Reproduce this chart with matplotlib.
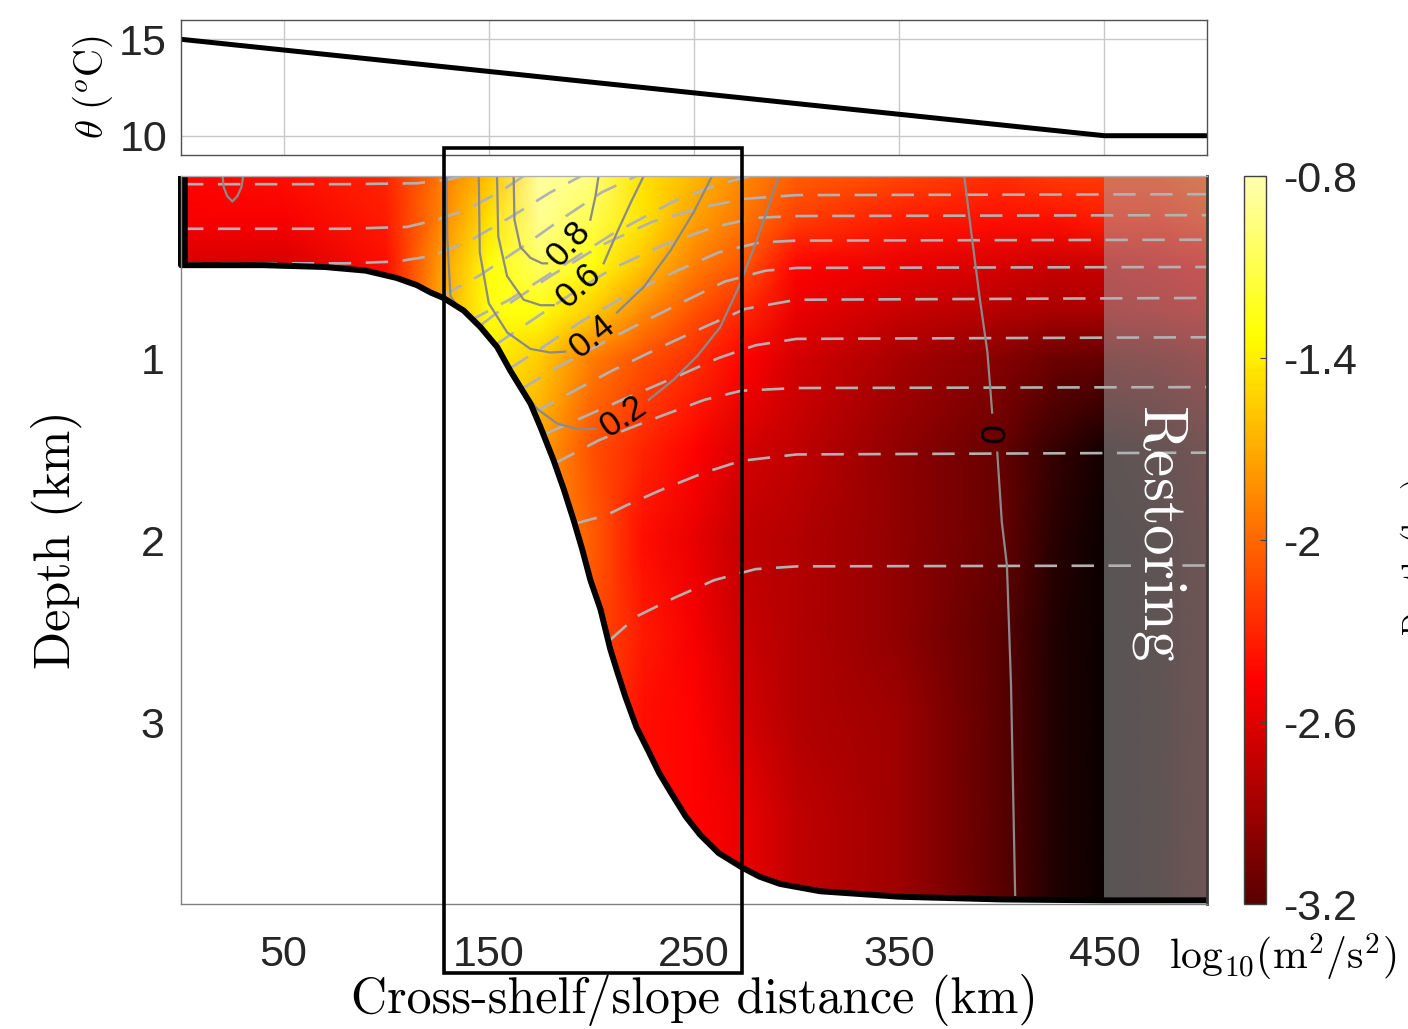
import numpy as np
import matplotlib.pyplot as plt
import matplotlib.transforms as mtransforms
from matplotlib.colors import ListedColormap, Normalize
from matplotlib.cm import ScalarMappable
from matplotlib.patches import Rectangle

plt.rcParams['font.family'] = ['Liberation Sans', 'DejaVu Sans']
plt.rcParams['mathtext.fontset'] = 'cm'

# -------------------------------------------------
# Data
# -------------------------------------------------

# upper panel: potential temperature at the surface
THETA_X = [0, 450, 500]
THETA_Y = [15, 10, 10]

# bathymetry (km, km)
BATHY_X = [0, 0, 40, 70, 90, 105, 115, 121.6, 127.9, 137.8, 145.9, 154.1, 160.5,
           165.4, 170.3, 175.2, 181.5, 186.5, 191.3, 195.5, 199.5, 204.4, 209.2,
           212.5, 216.5, 222, 227.8, 233, 239.4, 246, 253, 262, 273.5, 282, 292,
           311.5, 350, 400, 450, 500]
BATHY_Z = [0, 0.49, 0.49, 0.50, 0.52, 0.56, 0.60, 0.64, 0.67, 0.74, 0.83, 0.94, 1.07,
           1.16, 1.25, 1.38, 1.56, 1.72, 1.89, 2.05, 2.22, 2.38, 2.60,
           2.72, 2.86, 3.03, 3.16, 3.28, 3.40, 3.52, 3.62, 3.72, 3.80, 3.85, 3.89,
           3.93, 3.96, 3.975, 3.98, 3.98]

# log10 EKE on a coarse grid
EKE_X = [0, 50, 100, 125, 150, 175, 200, 225, 250, 275, 300, 350, 400, 425, 450, 475, 500]
EKE_Z = [0, 0.25, 0.5, 0.75, 1.0, 1.5, 2.0, 2.5, 3.0, 3.5, 4.0]
EKE = [
    [-2.45, -2.40, -2.30, -1.95, -1.60, -0.85, -0.95, -1.45, -1.65, -1.85, -2.05, -2.15, -2.25, -2.20, -2.20, -2.20, -2.10],
    [-2.50, -2.50, -2.35, -1.90, -1.45, -0.90, -1.10, -1.45, -1.75, -1.95, -2.20, -2.35, -2.40, -2.40, -2.35, -2.35, -2.25],
    [-2.65, -2.65, -2.40, -1.80, -1.30, -1.05, -1.30, -1.60, -1.90, -2.10, -2.45, -2.55, -2.65, -2.70, -2.70, -2.65, -2.55],
    [-2.65, -2.65, -2.40, -1.75, -1.30, -1.30, -1.55, -1.85, -2.10, -2.30, -2.55, -2.70, -2.80, -2.85, -2.85, -2.80, -2.70],
    [-2.65, -2.65, -2.40, -1.75, -1.40, -1.55, -1.90, -2.10, -2.25, -2.45, -2.65, -2.85, -3.00, -3.10, -3.15, -3.10, -3.00],
    [-2.65, -2.65, -2.40, -1.75, -1.50, -1.75, -2.10, -2.30, -2.45, -2.65, -2.75, -2.95, -3.15, -3.35, -3.50, -3.45, -3.30],
    [-2.65, -2.65, -2.40, -1.75, -1.50, -1.80, -2.05, -2.40, -2.55, -2.75, -2.80, -2.95, -3.15, -3.40, -3.55, -3.50, -3.35],
    [-2.65, -2.65, -2.40, -1.75, -1.50, -1.80, -2.10, -2.35, -2.50, -2.70, -2.80, -2.95, -3.20, -3.45, -3.55, -3.50, -3.35],
    [-2.65, -2.65, -2.40, -1.75, -1.50, -1.80, -2.10, -2.40, -2.45, -2.65, -2.80, -2.90, -3.20, -3.45, -3.55, -3.50, -3.35],
    [-2.65, -2.65, -2.40, -1.75, -1.50, -1.80, -2.10, -2.40, -2.45, -2.55, -2.75, -2.90, -3.20, -3.45, -3.55, -3.50, -3.35],
    [-2.65, -2.65, -2.40, -1.75, -1.50, -1.80, -2.10, -2.40, -2.45, -2.55, -2.75, -2.90, -3.20, -3.45, -3.55, -3.50, -3.35],
]

# dashed isopycnals, shelf ones (outcropping)
ISO_S1_X = [0, 80, 115, 130, 138]
ISO_S1_Z = [0.045, 0.045, 0.04, 0.02, 0.0]
ISO_S2_X = [0, 80, 110, 125, 140, 155, 167]
ISO_S2_Z = [0.29, 0.29, 0.28, 0.24, 0.18, 0.09, 0.0]
ISO_S3_X = [0, 80, 105, 122, 140, 160, 180, 195]
ISO_S3_Z = [0.48, 0.48, 0.47, 0.44, 0.36, 0.23, 0.09, 0.0]
# frontal ones (slope to surface)
ISO_F1_X = [127, 145, 165, 185, 205, 222]
ISO_F1_Z = [0.66, 0.55, 0.40, 0.24, 0.09, 0.0]
ISO_F2_X = [140, 160, 185, 210, 240, 262, 278]
ISO_F2_Z = [0.80, 0.68, 0.50, 0.32, 0.14, 0.045, 0.0]
# interior ones (slope to restoring zone)
ISO_I1_X = [146, 160, 180, 205, 230, 255, 275, 300, 500]
ISO_I1_Z = [0.82, 0.70, 0.55, 0.38, 0.25, 0.17, 0.125, 0.105, 0.10]
ISO_I2_X = [153, 170, 190, 210, 235, 260, 280, 300, 500]
ISO_I2_Z = [0.93, 0.80, 0.65, 0.51, 0.38, 0.28, 0.23, 0.22, 0.215]
ISO_I3_X = [160, 175, 195, 215, 240, 262, 282, 300, 500]
ISO_I3_Z = [1.06, 0.95, 0.80, 0.67, 0.53, 0.42, 0.365, 0.355, 0.35]
ISO_I4_X = [166, 182, 200, 222, 245, 265, 285, 300, 500]
ISO_I4_Z = [1.17, 1.06, 0.95, 0.82, 0.69, 0.58, 0.52, 0.505, 0.50]
ISO_I5_X = [172, 190, 210, 232, 255, 275, 300, 500]
ISO_I5_Z = [1.30, 1.19, 1.07, 0.95, 0.83, 0.73, 0.68, 0.67]
ISO_I6_X = [177, 195, 215, 240, 262, 280, 300, 500]
ISO_I6_Z = [1.42, 1.33, 1.23, 1.11, 1.00, 0.93, 0.895, 0.886]
ISO_I7_X = [182, 204, 229, 255, 273, 300, 500]
ISO_I7_Z = [1.58, 1.45, 1.34, 1.23, 1.18, 1.165, 1.16]
ISO_I8_X = [192, 207, 217, 235, 255, 273, 300, 500]
ISO_I8_Z = [1.91, 1.865, 1.81, 1.72, 1.63, 1.565, 1.53, 1.52]
ISO_I9_X = [209, 222, 240, 260, 280, 300, 500]
ISO_I9_Z = [2.55, 2.42, 2.32, 2.22, 2.16, 2.145, 2.14]

# mean along-slope velocity contours (m/s), split at the labels
U08_A_X = [162.1, 162.5, 165.4, 170.3, 176.0, 178.4]
U08_A_Z = [0.0, 0.24, 0.39, 0.45, 0.48, 0.48]
U08_B_X = [199.5, 202.0, 203.5]
U08_B_Z = [0.24, 0.11, 0.0]
U06_A_X = [154.0, 154.6, 158.9, 167.0, 175.2, 181.6]
U06_A_Z = [0.0, 0.33, 0.55, 0.68, 0.71, 0.71]
U06_B_X = [206.0, 212.5, 219.0, 225.5]
U06_B_Z = [0.48, 0.31, 0.15, 0.0]
U04_A_X = [145.1, 145.6, 150.0, 159.0, 170.3, 180.0, 187.3]
U04_A_Z = [0.0, 0.42, 0.70, 0.86, 0.95, 0.97, 0.965]
U04_B_X = [212.5, 225.5, 238.5, 249.8, 258.8]
U04_B_Z = [0.75, 0.61, 0.41, 0.20, 0.0]
U02_A_X = [129.4, 129.7, 131.3, 140.0, 154.0, 163.9, 173.6, 183.3, 193.0, 202.0]
U02_A_Z = [0.0, 0.33, 0.66, 0.80, 0.99, 1.14, 1.28, 1.36, 1.39, 1.39]
U02_B_X = [227.9, 240.0, 251.5, 262.8, 272.6, 280.7, 285.6, 291.2]
U02_B_Z = [1.23, 1.12, 0.99, 0.83, 0.59, 0.35, 0.19, 0.0]
U00_A_X = [381.7, 385.0, 389.0, 393.0, 395.3]
U00_A_Z = [0.0, 0.30, 0.65, 0.97, 1.30]
U00_B_X = [397.8, 400.0, 402.5, 404.5, 406.5]
U00_B_Z = [1.52, 1.90, 2.14, 2.80, 3.95]
U00_LOOP_X = [20.3, 20.8, 22.5, 25.0, 27.5, 29.5, 30.3]
U00_LOOP_Z = [0.0, 0.06, 0.11, 0.14, 0.11, 0.06, 0.0]

U_LABELS = ['0.8', '0.6', '0.4', '0.2', '0']
U_LABEL_X = [188.9, 193.8, 200.3, 215.7, 396.8]
U_LABEL_Z = [0.37, 0.60, 0.88, 1.32, 1.41]
U_LABEL_ROT = [48, 43, 39, 34, 88]

CBAR_TICKS = [-3.2, -2.6, -2.0, -1.4, -0.8]
CBAR_LABELS = ['-3.2', '-2.6', '-2', '-1.4', '-0.8']

RESTORING_X0 = 450
BOX_X = [128, 273.5]

# -------------------------------------------------
# Figure
# -------------------------------------------------

W, H = 1408, 1029
fig = plt.figure(figsize=(W / 100, H / 100), dpi=100)

TICK_SIZE = 31
SERIF = 'cmr10'
GRAY_FRAME = '#808080'

# ---- upper panel
ax_top = fig.add_axes([181 / W, 1 - 155 / H, 1026 / W, 135 / H])
ax_top.plot(THETA_X, THETA_Y, color='k', lw=3.6, solid_capstyle='butt')
ax_top.set_xlim(0, 500)
ax_top.set_ylim(9, 16)
ax_top.set_xticks([50, 150, 250, 350, 450])
ax_top.set_xticklabels([])
ax_top.set_yticks([10, 15])
ax_top.grid(True, color='#c8c8c8', lw=1.0)
ax_top.tick_params(length=0, labelsize=TICK_SIZE, pad=10, colors='#262626')
for sp in ax_top.spines.values():
    sp.set_color('#505050')
    sp.set_linewidth(1.0)
fig.text(93 / W, 1 - 87 / H, r'$\theta\ (^o\mathrm{C})$', rotation=90,
         ha='center', va='center', fontsize=28)

# ---- main panel
ax = fig.add_axes([181 / W, 1 - 904 / H, 1026 / W, 728 / H])

hot = plt.get_cmap('hot')
field_cmap = ListedColormap(hot(np.linspace(0.0, 0.92, 256)))
field_norm = Normalize(vmin=-3.2 - 2.4 * 0.12 / 0.8, vmax=-0.8)
bar_cmap = ListedColormap(hot(np.linspace(0.12, 0.92, 256)))
bar_norm = Normalize(vmin=-3.2, vmax=-0.8)

XX, ZZ = np.meshgrid(EKE_X, EKE_Z)
ax.pcolormesh(XX, ZZ, np.array(EKE), cmap=field_cmap, norm=field_norm,
              shading='gouraud', zorder=1, rasterized=True)

# restoring zone overlay
ax.add_patch(Rectangle((RESTORING_X0, 0), 500 - RESTORING_X0, 4,
                       facecolor='#a8a8a8', alpha=0.5, edgecolor='none', zorder=2))

# isopycnals
iso_lines = [
    (ISO_S1_X, ISO_S1_Z), (ISO_S2_X, ISO_S2_Z), (ISO_S3_X, ISO_S3_Z),
    (ISO_F1_X, ISO_F1_Z), (ISO_F2_X, ISO_F2_Z),
    (ISO_I1_X, ISO_I1_Z), (ISO_I2_X, ISO_I2_Z), (ISO_I3_X, ISO_I3_Z),
    (ISO_I4_X, ISO_I4_Z), (ISO_I5_X, ISO_I5_Z), (ISO_I6_X, ISO_I6_Z),
    (ISO_I7_X, ISO_I7_Z), (ISO_I8_X, ISO_I8_Z), (ISO_I9_X, ISO_I9_Z),
]
for xs, zs in iso_lines:
    ax.plot(xs, zs, color='#b2b2b2', lw=1.9, dashes=(8.5, 5.5), zorder=3)

# velocity contours
u_lines = [
    (U08_A_X, U08_A_Z), (U08_B_X, U08_B_Z), (U06_A_X, U06_A_Z), (U06_B_X, U06_B_Z),
    (U04_A_X, U04_A_Z), (U04_B_X, U04_B_Z), (U02_A_X, U02_A_Z), (U02_B_X, U02_B_Z),
    (U00_A_X, U00_A_Z), (U00_B_X, U00_B_Z), (U00_LOOP_X, U00_LOOP_Z),
]
for xs, zs in u_lines:
    ax.plot(xs, zs, color='#8a8a8a', lw=1.6, zorder=3)
for lab, lx, lz, rot in zip(U_LABELS, U_LABEL_X, U_LABEL_Z, U_LABEL_ROT):
    ax.text(lx, lz, lab, rotation=rot, ha='center', va='center',
            fontsize=25, color='k', zorder=4, rotation_mode='anchor')

# land and bathymetry
ax.fill_between(BATHY_X, BATHY_Z, 4.2, color='white', zorder=5)
ax.plot(BATHY_X, BATHY_Z, color='k', lw=4.3, zorder=6, clip_on=False,
        solid_joinstyle='round', solid_capstyle='butt')
# the coastal wall is drawn a little heavier
ax.plot(BATHY_X[:2], BATHY_Z[:2], color='k', lw=9, zorder=6,
        solid_capstyle='butt')

ax.text(477, 1.96, r'$\mathrm{Restoring}$', rotation=-90, ha='center', va='center',
        fontsize=44, color='white', zorder=7)

ax.set_xlim(0, 500)
ax.set_ylim(4, 0)
ax.set_xticks([50, 150, 250, 350, 450])
ax.set_yticks([1, 2, 3])
ax.tick_params(direction='in', length=4, color=GRAY_FRAME, labelsize=TICK_SIZE,
               labelcolor='#262626')
ax.tick_params(axis='x', pad=22)
ax.tick_params(axis='y', pad=12)
for side, sp in ax.spines.items():
    sp.set_color(GRAY_FRAME)
    sp.set_linewidth(1.0)
    sp.set_zorder(8)
ax.spines['top'].set_color('#b0b0b0')
ax.spines['right'].set_color('#3a3a3a')
ax.spines['right'].set_linewidth(2.0)

fig.text(694 / W, 1 - 1000 / H, 'Cross-shelf/slope distance (km)', family=SERIF,
         ha='center', va='center', fontsize=36)
fig.text(57 / W, 1 - 540 / H, 'Depth (km)', family=SERIF, rotation=90,
         ha='center', va='center', fontsize=36)

# zoom box spanning both axes
box_tr = mtransforms.blended_transform_factory(ax.transData, fig.transFigure)
fig.add_artist(Rectangle((BOX_X[0], 1 - 973 / H), BOX_X[1] - BOX_X[0], (973 - 148) / H,
                         transform=box_tr, fill=False, edgecolor='k', lw=2.6,
                         zorder=10, clip_on=False))

# ---- colorbar
cax = fig.add_axes([1244 / W, 1 - 904 / H, 22 / W, 728 / H])
cb = fig.colorbar(ScalarMappable(norm=bar_norm, cmap=bar_cmap), cax=cax)
cb.set_ticks(CBAR_TICKS)
cb.set_ticklabels(CBAR_LABELS)
cb.ax.tick_params(labelsize=TICK_SIZE, length=4, direction='in', pad=12,
                  labelcolor='#262626', color='#404040')
cb.outline.set_edgecolor('#404040')
cb.outline.set_linewidth(1.0)
fig.text(1283 / W, 1 - 957 / H, r'$\mathrm{log}_{10}(\mathrm{m}^2/\mathrm{s}^2)$',
         ha='center', va='center', fontsize=30)

# label of a neighbouring panel, cut by the page edge
fig.text(1401 / W, 1 - 556 / H, 'Depth (km)', family=SERIF, rotation=90,
         ha='left', va='center', fontsize=22)

fig.savefig('out.png', dpi=100)
